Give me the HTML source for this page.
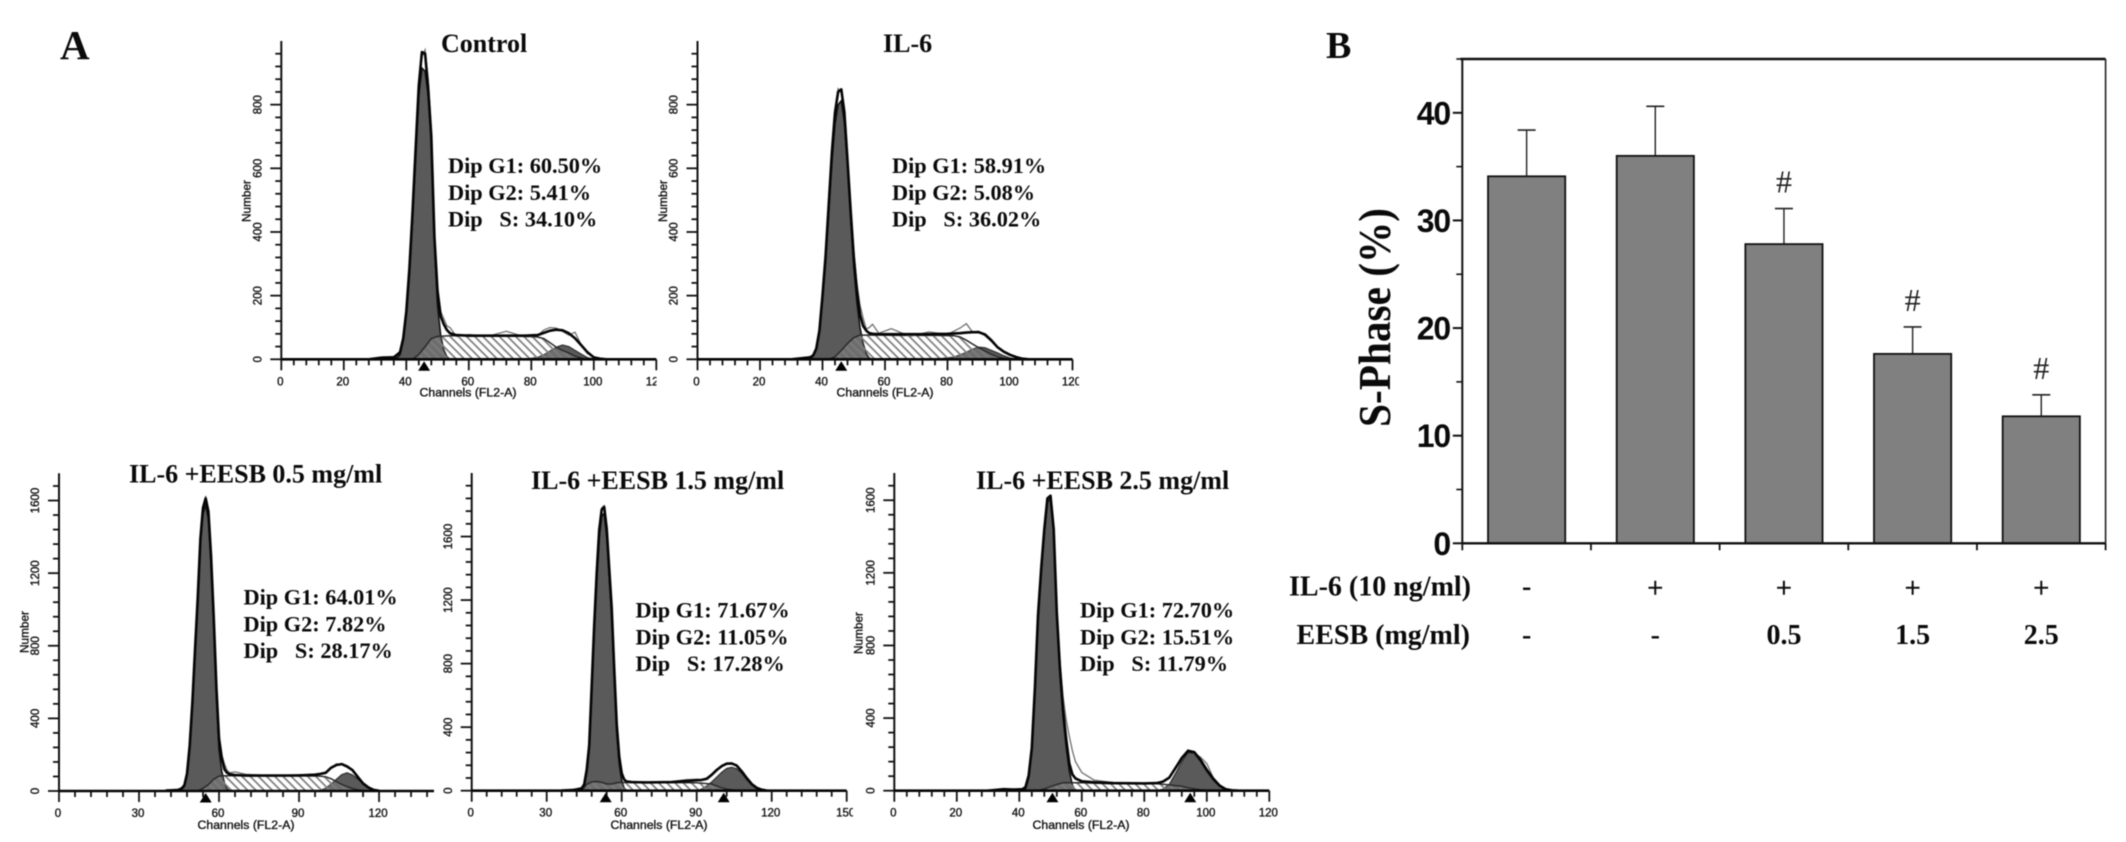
<!DOCTYPE html>
<html lang="en">
<head>
<meta charset="utf-8">
<title>Cell cycle histograms and S-phase bar chart</title>
<style>
html,body{margin:0;padding:0;background:#fff;width:2126px;height:842px;overflow:hidden}
svg{display:block;filter:blur(.45px)}
.serif{font-family:"Liberation Serif",serif;font-weight:700;fill:#0a0a0a}
.sans{font-family:"Liberation Sans",sans-serif;fill:#111;stroke:#111;stroke-width:.35}
.stat{font-size:22.3px}
.panel-title{font-size:26px}
.row-label{font-size:28px}
</style>
</head>
<body>
<svg id="figure" xmlns="http://www.w3.org/2000/svg" width="2126" height="842" viewBox="0 0 2126 842">
  <defs>
    <pattern id="hatch" patternUnits="userSpaceOnUse" width="5.8" height="5.8" patternTransform="rotate(45)">
      <rect width="5.8" height="5.8" fill="rgba(255,255,255,.12)"></rect>
      <rect x="0" y="0" width="5.8" height="1.7" fill="#7c7c7c"></rect>
    </pattern>
  </defs>

  <text class="serif" x="60" y="59" font-size="41">A</text>
  <text class="serif" x="1326" y="58" font-size="38">B</text>

  <g id="hist-control"></g>
  <g id="hist-il6"></g>
  <g id="hist-eesb05"></g>
  <g id="hist-eesb15"></g>
  <g id="hist-eesb25"></g>

  <text class="serif panel-title" x="441" y="52">Control</text>
  <text class="serif stat" x="448" y="173">Dip G1: 60.50%</text>
  <text class="serif stat" x="448" y="200">Dip G2: 5.41%</text>
  <text class="serif stat" x="448" y="226.500">Dip&#160;&#160;&#160;S: 34.10%</text>

  <text class="serif panel-title" x="883" y="52">IL-6</text>
  <text class="serif stat" x="892" y="173">Dip G1: 58.91%</text>
  <text class="serif stat" x="892" y="200">Dip G2: 5.08%</text>
  <text class="serif stat" x="892" y="226.500">Dip&#160;&#160;&#160;S: 36.02%</text>

  <text class="serif panel-title" x="129" y="482.500">IL-6 +EESB 0.5 mg/ml</text>
  <text class="serif stat" x="243.500" y="604.500">Dip G1: 64.01%</text>
  <text class="serif stat" x="243.500" y="631.500">Dip G2: 7.82%</text>
  <text class="serif stat" x="243.500" y="658">Dip&#160;&#160;&#160;S: 28.17%</text>

  <text class="serif panel-title" x="531" y="489">IL-6 +EESB 1.5 mg/ml</text>
  <text class="serif stat" x="635.500" y="617.500">Dip G1: 71.67%</text>
  <text class="serif stat" x="635.500" y="644.500">Dip G2: 11.05%</text>
  <text class="serif stat" x="635.500" y="671">Dip&#160;&#160;&#160;S: 17.28%</text>

  <text class="serif panel-title" x="976" y="489">IL-6 +EESB 2.5 mg/ml</text>
  <text class="serif stat" x="1080" y="617.500">Dip G1: 72.70%</text>
  <text class="serif stat" x="1080" y="644.500">Dip G2: 15.51%</text>
  <text class="serif stat" x="1080" y="671">Dip&#160;&#160;&#160;S: 11.79%</text>

  <g id="bar-chart"></g>
  <text class="serif" transform="translate(1390,427) rotate(-90)" font-size="45" textLength="219" lengthAdjust="spacingAndGlyphs">S-Phase (%)</text>
  <text class="serif row-label" x="1471" y="595.500" text-anchor="end">IL-6 (10 ng/ml)</text>
  <text class="serif row-label" x="1470" y="644" text-anchor="end">EESB (mg/ml)</text>
</svg>

<script>
// ---------- Panel B data ----------
const barConditions = ['control', 'il6', 'eesb-0-5', 'eesb-1-5', 'eesb-2-5'];
const sPhaseValues = [34.1, 36.0, 27.8, 17.6, 11.8];
const sPhaseErrors = [4.3, 4.6, 3.3, 2.5, 2.0];
const significanceMarks = ['', '', '#', '#', '#'];
const il6Row = ['-', '+', '+', '+', '+'];
const eesbRow = ['-', '-', '0.5', '1.5', '2.5'];
const barYMajorTicks = [0, 10, 20, 30, 40];
const barYMinorTicks = [5, 15, 25, 35, 45];

// ---------- Panel A data: Control ----------
const controlPeakChannels = [36,37,38,39,40,41,42,43,44,45,46,47,48,49,50,51,52,53,54];
const controlG1 = [1,5,14,60,140,270,440,640,830,915,905,830,690,370,170,75,30,8,0];
const controlBroadChannels = [42,44,46,48,50,54,60,66,72,78,82,84,86,88,90,92,94,96,98,100,102];
const controlS = [0,15,40,65,72,74,74,73,73,72,70,65,52,38,28,20,10,4,0,0,0];
const controlG2 = [0,0,0,0,0,0,0,0,0,0,6,14,26,38,45,40,28,16,5,1,0];
const controlFitChannels = [28,32,36,38,39,40,41,42,43,44,45,46,47,48,49,50,51,52,53,54,56,60,66,72,78,82,84,86,88,90,92,94,96,98,100,102,104];
const controlFit = [0,5,6,22,65,150,285,460,665,860,965,960,850,700,385,215,135,110,92,82,76,74,74,74,74,76,83,90,93,91,82,66,44,22,6,2,0];
const controlRaw = [0,7,9,20,60,145,290,470,660,870,950,972,880,720,400,230,150,128,105,100,72,78,72,88,70,74,92,100,98,88,76,85,45,18,8,2,0];
const controlMarkers = [45.7];

// ---------- Panel A data: IL-6 ----------
const il6PeakChannels = [36,37,38,39,40,41,42,43,44,45,46,47,48,49,50,51,52,53,54,55,56];
const il6G1 = [3,10,30,85,190,310,470,620,740,800,812,745,610,445,290,180,100,50,18,3,0];
const il6BroadChannels = [42,44,46,48,50,52,58,64,70,76,82,84,86,88,90,92,94,96,98,100,102,104];
const il6S = [0,8,28,50,68,76,76,75,75,75,74,70,60,48,36,26,16,8,3,0,0,0];
const il6G2 = [0,0,0,0,0,0,0,0,0,0,7,14,22,32,38,36,28,20,11,4,1,0];
const il6FitChannels = [30,34,36,37,38,39,40,41,42,43,44,45,46,47,48,49,50,51,52,53,54,55,56,58,62,68,74,80,84,86,88,90,92,94,96,98,100,102,104,106];
const il6Fit = [0,4,6,12,34,90,200,325,490,650,775,840,848,775,625,470,320,215,140,105,90,82,80,79,79,79,79,80,82,84,85,85,78,60,38,24,14,7,2,0];
const il6Raw = [0,6,8,14,30,95,195,330,500,640,780,850,840,790,635,480,340,240,170,130,95,100,110,82,96,72,86,78,98,112,86,88,74,56,36,26,12,6,3,0];
const il6Markers = [46];

// ---------- Panel A data: IL-6 + EESB 0.5 ----------
const eesb05PeakChannels = [45,46,47,48,49,50,51,52,53,54,55,56,57,58,59,60,61,62,63,64];
const eesb05G1 = [0,8,25,90,245,480,760,1040,1370,1530,1575,1500,1260,920,520,230,110,45,12,0];
const eesb05BroadChannels = [52,54,56,58,60,62,70,80,90,98,100,102,104,106,108,110,112,114,116,118,120];
const eesb05S = [0,15,35,65,82,84,84,84,83,82,78,68,52,36,24,14,7,2,0,0,0];
const eesb05G2 = [0,0,0,0,0,0,0,0,0,3,16,38,64,90,100,88,66,40,16,2,0];
const eesb05FitChannels = [40,44,45,46,47,48,49,50,51,52,53,54,55,56,57,58,59,60,61,62,63,64,66,70,80,90,96,98,100,102,104,106,108,110,112,114,116,118,120];
const eesb05Fit = [3,5,7,15,32,95,250,490,775,1060,1390,1560,1612,1540,1300,960,570,290,185,120,100,92,88,85,85,86,90,94,100,128,143,148,135,115,78,42,20,6,1];
const eesb05Raw = [4,5,8,14,30,100,255,480,790,1050,1400,1570,1625,1530,1320,950,590,310,200,150,115,100,105,92,84,90,88,96,104,125,150,145,138,112,82,38,22,5,0];
const eesb05Markers = [55];

// ---------- Panel A data: IL-6 + EESB 1.5 ----------
const eesb15PeakChannels = [44,45,46,47,48,49,50,51,52,53,54,55,56,57,58,59,60,61,62];
const eesb15G1 = [0,25,120,270,600,1000,1320,1590,1730,1745,1600,1350,1100,720,370,170,65,15,0];
const eesb15BroadChannels = [44,46,48,50,52,54,56,58,60,70,80,90,92,94,96,98,100,102,104,106,108,110,112,114,116];
const eesb15S = [0,40,55,58,52,42,42,50,52,51,51,50,48,45,42,30,18,10,5,2,0,0,0,0,0];
const eesb15G2 = [0,0,0,0,0,0,0,0,0,0,0,0,10,30,55,85,115,140,147,138,110,70,35,12,2];
const eesb15FitChannels = [36,40,42,44,45,46,47,48,49,50,51,52,53,54,55,56,57,58,59,60,61,62,64,70,80,86,90,92,94,96,98,100,102,104,106,108,110,112,114,116,118];
const eesb15Fit = [1,4,8,15,40,130,285,660,1040,1370,1640,1770,1786,1650,1400,1150,770,420,215,110,70,58,54,52,54,62,66,68,75,100,130,155,170,172,158,122,80,42,18,6,1];
const eesb15Raw = [0,5,7,18,35,135,280,670,1030,1380,1630,1780,1795,1640,1410,1140,780,410,225,105,75,55,56,50,58,70,72,64,80,96,135,150,175,168,162,118,84,38,20,5,2];
const eesb15Markers = [53.6, 100.8];

// ---------- Panel A data: IL-6 + EESB 2.5 ----------
const eesb25PeakChannels = [41,42,43,44,45,46,47,48,49,50,51,52,53,54,55,56,57,58];
const eesb25G1 = [0,10,70,220,550,950,1200,1420,1590,1610,1420,950,650,410,240,110,30,0];
const eesb25BroadChannels = [46,48,50,52,54,60,70,80,84,86,88,90,92,94,96,98,100,102,104,106,108];
const eesb25S = [0,10,22,34,44,44,38,38,38,36,32,28,24,16,10,5,2,0,0,0,0];
const eesb25G2 = [0,0,0,0,0,0,0,0,0,8,35,95,160,210,205,160,105,60,25,5,0];
const eesb25FitChannels = [30,35,38,41,42,43,44,45,46,47,48,49,50,51,52,53,54,55,56,57,58,60,64,70,80,84,86,88,90,92,94,96,98,100,102,104,106,108,110];
const eesb25Fit = [0,8,6,8,20,85,235,565,965,1225,1440,1610,1625,1440,980,680,450,285,150,90,68,52,46,42,40,42,50,72,125,180,220,212,170,115,68,30,9,2,0];
const eesb25Raw = [0,10,7,6,25,80,240,560,970,1210,1420,1600,1618,1450,1000,720,520,390,300,220,160,100,58,45,42,44,52,70,120,175,225,205,185,150,75,28,10,3,0];
const eesb25Markers = [50.6, 94.7];

// ---------- Tick labels ----------
const xTicksBy20 = [0, 20, 40, 60, 80, 100, 120];
const xTicksBy30To120 = [0, 30, 60, 90, 120];
const xTicksBy30To150 = [0, 30, 60, 90, 120, 150];
const yTicksTo800 = [0, 200, 400, 600, 800];
const yTicksTo1600 = [0, 400, 800, 1200, 1600];

// ---------- Layout (separate from the data) ----------
const NS = 'http://www.w3.org/2000/svg';
function make(tag, parent, attrs) {
  const el = document.createElementNS(NS, tag);
  for (const k in attrs) el.setAttribute(k, attrs[k]);
  parent.appendChild(el);
  return el;
}

const panels = [
  { id: 'hist-control', key: 'control', left: 281.3, right: 656.3, xMax: 120, xTicks: xTicksBy20, xMinor: 4, clipRight: 656.5,
    base: 359.3, top: 41, yMax: 1000, yTicks: yTicksTo800, yMinor: 40, labelGap: 24, numberGap: 35, numberY: 201,
    channelsX: 468, channelsY: 396.5,
    peakCh: controlPeakChannels, g1: controlG1, broadCh: controlBroadChannels, s: controlS, g2: controlG2,
    fitCh: controlFitChannels, fit: controlFit, raw: controlRaw, markers: controlMarkers },
  { id: 'hist-il6', key: 'il6', left: 697.5, right: 1072.5, xMax: 120, xTicks: xTicksBy20, xMinor: 4, clipRight: 1079,
    base: 359.3, top: 41, yMax: 1000, yTicks: yTicksTo800, yMinor: 40, labelGap: 24, numberGap: 34.5, numberY: 201,
    channelsX: 885, channelsY: 396.5,
    peakCh: il6PeakChannels, g1: il6G1, broadCh: il6BroadChannels, s: il6S, g2: il6G2,
    fitCh: il6FitChannels, fit: il6Fit, raw: il6Raw, markers: il6Markers },
  { id: 'hist-eesb05', key: 'eesb05', left: 59, right: 434, xMax: 140.6, xTicks: xTicksBy30To120, xMinor: 6, clipRight: 440,
    base: 791, top: 473.3, yMax: 1750, yTicks: yTicksTo1600, yMinor: 80, labelGap: 24, numberGap: 34.5, numberY: 632,
    channelsX: 246, channelsY: 829,
    peakCh: eesb05PeakChannels, g1: eesb05G1, broadCh: eesb05BroadChannels, s: eesb05S, g2: eesb05G2,
    fitCh: eesb05FitChannels, fit: eesb05Fit, raw: eesb05Raw, markers: eesb05Markers },
  { id: 'hist-eesb15', key: 'eesb15', left: 471.7, right: 846.7, xMax: 150, xTicks: xTicksBy30To150, xMinor: 6, clipRight: 853,
    base: 790.7, top: 473, yMax: 2000, yTicks: yTicksTo1600, yMinor: 80, labelGap: 23.500, numberGap: null, numberY: 0,
    channelsX: 659, channelsY: 829,
    peakCh: eesb15PeakChannels, g1: eesb15G1, broadCh: eesb15BroadChannels, s: eesb15S, g2: eesb15G2,
    fitCh: eesb15FitChannels, fit: eesb15Fit, raw: eesb15Raw, markers: eesb15Markers },
  { id: 'hist-eesb25', key: 'eesb25', left: 894.3, right: 1269.3, xMax: 120, xTicks: xTicksBy20, xMinor: 4, clipRight: 1280,
    base: 790.7, top: 473, yMax: 1750, yTicks: yTicksTo1600, yMinor: 80, labelGap: 24, numberGap: 36, numberY: 633,
    channelsX: 1081, channelsY: 829,
    peakCh: eesb25PeakChannels, g1: eesb25G1, broadCh: eesb25BroadChannels, s: eesb25S, g2: eesb25G2,
    fitCh: eesb25FitChannels, fit: eesb25Fit, raw: eesb25Raw, markers: eesb25Markers }
];

function areaPath(channels, values, xs, ys) {
  let d = 'M' + xs(channels[0]).toFixed(1) + ' ' + ys(0).toFixed(1);
  channels.forEach(function (c, i) {
    d += 'L' + xs(c).toFixed(1) + ' ' + ys(values[i]).toFixed(1);
  });
  return d + 'L' + xs(channels[channels.length - 1]).toFixed(1) + ' ' + ys(0).toFixed(1) + 'Z';
}
function linePath(channels, values, xs, ys) {
  return channels.map(function (c, i) {
    return (i ? 'L' : 'M') + xs(c).toFixed(1) + ' ' + ys(values[i]).toFixed(1);
  }).join('');
}

panels.forEach(function (p) {
  const g = document.getElementById(p.id);
  const xs = function (c) { return p.left + (c / p.xMax) * (p.right - p.left); };
  const ys = function (v) { return p.base - (v / p.yMax) * (p.base - p.top); };

  // Series
  const g1 = make('path', g, { d: areaPath(p.peakCh, p.g1, xs, ys), fill: '#5a5a5a', stroke: '#111', 'stroke-width': 1.6 });
  
  
  const g2 = make('path', g, { d: areaPath(p.broadCh, p.g2, xs, ys), fill: '#5a5a5a', stroke: '#333', 'stroke-width': 1.3 });
  
  
  const sArea = make('path', g, { d: areaPath(p.broadCh, p.s, xs, ys), fill: 'url(#hatch)', stroke: '#2a2a2a', 'stroke-width': 1.5 });
  
  
  const raw = make('path', g, { d: linePath(p.fitCh, p.raw, xs, ys), fill: 'none', stroke: '#707070', 'stroke-width': 1.3 });
  
  
  const fit = make('path', g, { d: linePath(p.fitCh, p.fit, xs, ys), fill: 'none', stroke: '#050505', 'stroke-width': 2.6, 'stroke-linejoin': 'round' });
  
  

  // Y axis
  const yAxis = make('line', g, { x1: p.left, x2: p.left, y1: p.top, y2: p.base, stroke: '#111', 'stroke-width': 2 });
  
  
  const yMajorStep = p.yTicks[1] - p.yTicks[0];
  for (let v = 0; v < p.yMax; v += p.yMinor) {
    const isMajor = v % yMajorStep === 0 && v <= p.yTicks[p.yTicks.length - 1];
    const tick = make('line', g, { x1: p.left - (isMajor ? 11 : 6), x2: p.left, y1: ys(v), y2: ys(v), stroke: '#111', 'stroke-width': 1.8 });
    
    
  }
  p.yTicks.forEach(function (v) {
    const label = make('text', g, { class: 'sans', 'font-size': 11.5, 'text-anchor': 'middle',
      transform: 'translate(' + (p.left - p.labelGap + 4) + ',' + ys(v) + ') rotate(-90)' });
    label.textContent = String(v);
    
    
  });
  if (p.numberGap !== null) {
    const yTitle = make('text', g, { class: 'sans', 'font-size': 11.8, 'text-anchor': 'middle',
      transform: 'translate(' + (p.left - p.numberGap + 4) + ',' + p.numberY + ') rotate(-90)' });
    yTitle.textContent = 'Number';
    
    
  }

  // X axis
  const xAxis = make('line', g, { x1: p.left, x2: p.right, y1: p.base, y2: p.base, stroke: '#050505', 'stroke-width': 2.6 });
  
  
  const xMajorStep = p.xTicks[1] - p.xTicks[0];
  for (let c = 0; c <= p.xMax; c += p.xMinor) {
    const isMajor = c % xMajorStep === 0;
    const tick = make('line', g, { x1: xs(c), x2: xs(c), y1: p.base, y2: p.base + (isMajor ? 11 : 6), stroke: '#111', 'stroke-width': 1.8 });
    
    
  }
  const clip = make('clipPath', g, { id: 'clip-' + p.key });
  make('rect', clip, { x: p.left - 30, y: p.base, width: p.clipRight - p.left + 30, height: 60 });
  const xLabels = make('g', g, { 'clip-path': 'url(#clip-' + p.key + ')' });
  
  
  p.xTicks.forEach(function (c) {
    const label = make('text', xLabels, { class: 'sans', x: xs(c) - 1, y: p.base + 26, 'font-size': 11.5, 'text-anchor': 'middle' });
    label.textContent = String(c);
    
    
  });
  const xTitle = make('text', g, { class: 'sans', x: p.channelsX, y: p.channelsY, 'font-size': 12.3, 'text-anchor': 'middle', textLength: 97, lengthAdjust: 'spacingAndGlyphs' });
  xTitle.textContent = 'Channels (FL2-A)';
  
  

  // Peak markers
  p.markers.forEach(function (c) {
    const x = xs(c);
    const tri = make('polygon', g, { points: (x - 6) + ',' + (p.base + 11.5) + ' ' + (x + 6) + ',' + (p.base + 11.5) + ' ' + x + ',' + (p.base + 2), fill: '#000' });
    
    
  });
});

// ---------- Panel B drawing ----------
(function () {
  const g = document.getElementById('bar-chart');
  const left = 1462.3, right = 2105.6, top = 59, base = 543.3, yMax = 45;
  const band = (right - left) / barConditions.length;
  const xc = function (i) { return left + band * (i + 0.5); };
  const ys = function (v) { return base - (v / yMax) * (base - top); };

  barConditions.forEach(function (cond, i) {
    const errTop = ys(sPhaseValues[i] + sPhaseErrors[i]);
    const stem = make('line', g, { x1: xc(i), x2: xc(i), y1: errTop, y2: ys(sPhaseValues[i]), stroke: '#222', 'stroke-width': 1.4 });
    
    
    const cap = make('line', g, { x1: xc(i) - 9, x2: xc(i) + 9, y1: errTop, y2: errTop, stroke: '#222', 'stroke-width': 1.6 });
    
    
    const bar = make('rect', g, { x: xc(i) - band * 0.3, y: ys(sPhaseValues[i]), width: band * 0.6, height: base - ys(sPhaseValues[i]), fill: '#808080', stroke: '#111', 'stroke-width': 1.8 });
    
    
    if (significanceMarks[i]) {
      const mark = make('text', g, { x: xc(i), y: errTop - 16, 'font-family': '"Liberation Serif",serif', 'font-size': 32, 'text-anchor': 'middle', fill: '#222' });
      mark.textContent = significanceMarks[i];
      
      
    }
    const isPlus = il6Row[i] === '+';
    const il6 = make('text', g, { x: xc(i), y: isPlus ? 597.5 : 595.5, 'font-family': '"Liberation Serif",serif', 'font-size': 28, 'font-weight': isPlus ? 400 : 700, 'text-anchor': 'middle', fill: '#0a0a0a', stroke: '#0a0a0a', 'stroke-width': isPlus ? 0.6 : 0 });
    il6.textContent = il6Row[i];
    
    
    const eesb = make('text', g, { x: xc(i), y: 644, 'font-family': '"Liberation Serif",serif', 'font-size': 28, 'font-weight': 700, 'text-anchor': 'middle', fill: '#0a0a0a' });
    eesb.textContent = eesbRow[i];
    
    
  });

  // Frame
  const frameLeft = make('line', g, { x1: left, x2: left, y1: top, y2: base, stroke: '#111', 'stroke-width': 2 });
  
  
  const frameTop = make('line', g, { x1: left - 2, x2: right, y1: top, y2: top, stroke: '#111', 'stroke-width': 2.4 });
  
  
  const frameRight = make('line', g, { x1: right, x2: right, y1: top, y2: base, stroke: '#222', 'stroke-width': 1.6 });
  
  
  const frameBase = make('line', g, { x1: left, x2: right, y1: base, y2: base, stroke: '#111', 'stroke-width': 2.4 });
  
  

  // Ticks
  barYMajorTicks.forEach(function (v) {
    const tick = make('line', g, { x1: left - 9.500, x2: left, y1: ys(v), y2: ys(v), stroke: '#111', 'stroke-width': 2 });
    
    
    const label = make('text', g, { x: 1450, y: ys(v) + 11.500, 'font-family': '"Liberation Sans",sans-serif', 'font-weight': 700, 'font-size': 32, 'text-anchor': 'end', 'letter-spacing': -1.2, fill: '#0a0a0a' });
    label.textContent = String(v);
    
    
  });
  barYMinorTicks.forEach(function (v) {
    const tick = make('line', g, { x1: left - 6, x2: left, y1: ys(v), y2: ys(v), stroke: '#111', 'stroke-width': 1.600 });
    
    
  });
  for (let i = 0; i <= barConditions.length; i++) {
    const tick = make('line', g, { x1: left + band * i, x2: left + band * i, y1: base, y2: base + 7, stroke: '#111', 'stroke-width': 1.8 });
    
    
  }
})();
</script>
</body>
</html>
